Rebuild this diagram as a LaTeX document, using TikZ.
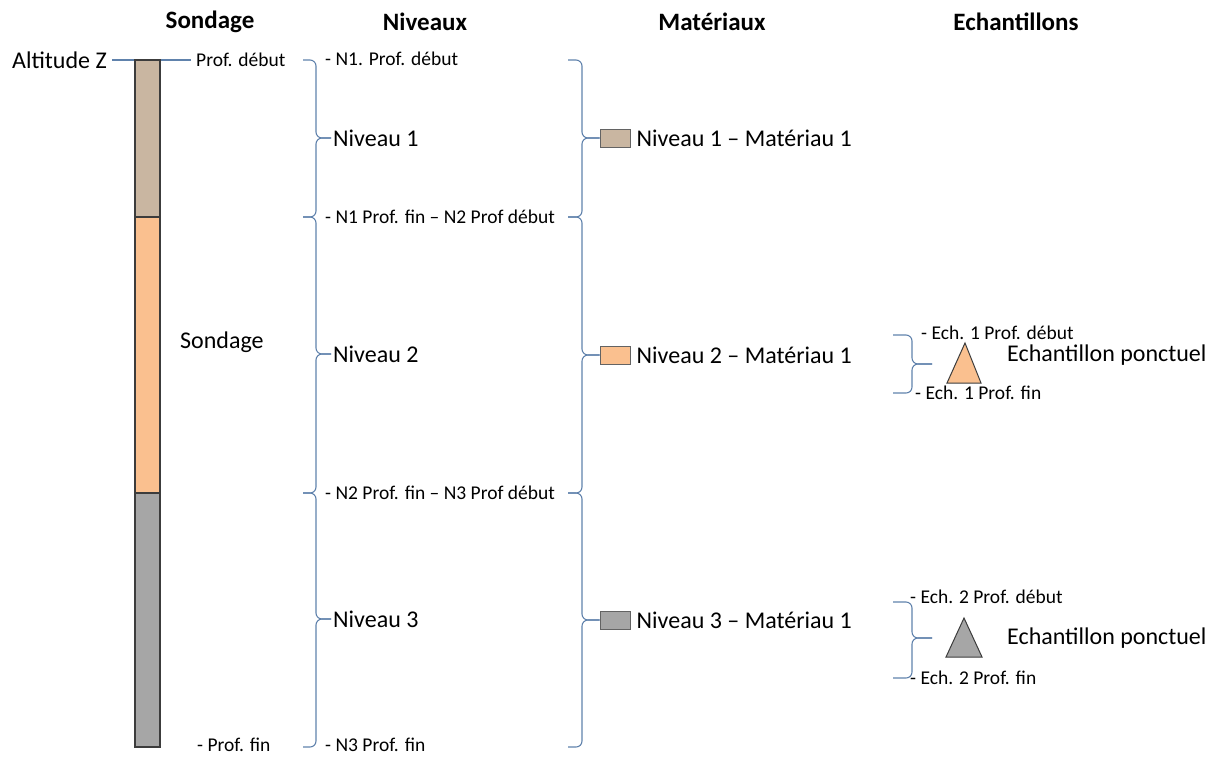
\documentclass[tikz,border=0pt]{standalone}
\usepackage{fontspec}
\setmainfont{Carlito}
\usepackage{xcolor}
\usetikzlibrary{positioning}

\definecolor{brun}{RGB}{201,182,161}
\definecolor{peche}{RGB}{250,192,143}
\definecolor{gris}{RGB}{166,166,166}
\definecolor{bord}{RGB}{60,60,60}
\definecolor{bleu}{RGB}{96,130,172}

\begin{document}
\begin{tikzpicture}[
  x=1pt, y=-1pt,
  hdr/.style={font=\fontsize{25}{29}\selectfont\bfseries, inner sep=0pt},
  big/.style={font=\fontsize{24}{28}\selectfont, inner sep=2pt, anchor=west},
  small/.style={font=\fontsize{19.5}{23}\selectfont, inner sep=2pt, anchor=west},
  brc/.style={draw=bleu, line width=1.1pt, rounded corners=6pt},
  layer/.style={draw=bord, line width=1.2pt, minimum width=25pt, outer sep=0pt, inner sep=0pt},
  mat/.style={draw=bord!80, line width=1pt, minimum width=30pt, minimum height=18pt, inner sep=0pt},
  tri/.style={draw=bord, line width=1pt}
]
\useasboundingbox (0,0) rectangle (1217,756);

% titres
\node[hdr] (hsond) at (210,22) {Sondage};
\node[hdr] (hniv) at (425,22) {Niveaux};
\node[hdr] (hmat) at (712,22) {Matériaux};
\node[hdr] (hech) at (1016,22) {Echantillons};

% sondage
\node[big, anchor=east, inner xsep=5pt] (altz) at (112,60) {Altitude Z};
\node[small, inner xsep=5pt] (sdeb) at (191,60) {Prof. début};
\draw[bleu, line width=1.1pt] (altz) -- (sdeb);
\node[layer, fill=brun, minimum height=157pt, anchor=north west] (c1) at (135,60) {};
\node[layer, fill=peche, minimum height=276pt, below=0pt of c1] (c2) {};
\node[layer, fill=gris, minimum height=254pt, below=0pt of c2] (c3) {};
\node[big] (sond) at (178,342) {Sondage};
\node[small] (sfin) at (195,745) {- Prof. fin};

% niveaux
\coordinate (nv0) at (303,60);
\coordinate (nv1) at (303,217);
\coordinate (nv2) at (303,493);
\coordinate (nv3) at (303,747);
\node[small] (n1deb) at (323,59) {- N1. Prof. début};
\node[big] (niv1) at (331,138) {Niveau 1};
\node[small] (n12) at (323,217) {- N1 Prof. fin – N2 Prof début};
\node[big] (niv2) at (331,354) {Niveau 2};
\node[small] (n23) at (323,493) {- N2 Prof. fin – N3 Prof début};
\node[big] (niv3) at (331,619) {Niveau 3};
\node[small] (n3fin) at (323,745) {- N3 Prof. fin};
\draw[brc] (nv0) -- ++(13,0) |- (niv1.west);
\draw[brc] (nv1) -- ++(13,0) |- (niv1.west);
\draw[brc] (nv1) -- ++(13,0) |- (niv2.west);
\draw[brc] (nv2) -- ++(13,0) |- (niv2.west);
\draw[brc] (nv2) -- ++(13,0) |- (niv3.west);
\draw[brc] (nv3) -- ++(13,0) |- (niv3.west);

% materiaux
\coordinate (mt0) at (568,60);
\coordinate (mt1) at (568,217);
\coordinate (mt2) at (568,493);
\coordinate (mt3) at (568,747);
\node[mat, fill=brun] (m1) at (615,138) {};
\node[big, right=4pt of m1] (m1t) {Niveau 1 – Matériau 1};
\node[mat, fill=peche] (m2) at (615,355) {};
\node[big, right=4pt of m2] (m2t) {Niveau 2 – Matériau 1};
\node[mat, fill=gris] (m3) at (615,620) {};
\node[big, right=4pt of m3] (m3t) {Niveau 3 – Matériau 1};
\draw[brc] (mt0) -- ++(14,0) |- (m1.west);
\draw[brc] (mt1) -- ++(14,0) |- (m1.west);
\draw[brc] (mt1) -- ++(14,0) |- (m2.west);
\draw[brc] (mt2) -- ++(14,0) |- (m2.west);
\draw[brc] (mt2) -- ++(14,0) |- (m3.west);
\draw[brc] (mt3) -- ++(14,0) |- (m3.west);

% echantillons
\coordinate (e1a) at (893,335);
\coordinate (e1b) at (893,393);
\coordinate (e1t) at (932,364);
\coordinate (e2a) at (893,602);
\coordinate (e2b) at (893,678);
\coordinate (e2t) at (932,638);
\draw[brc] (e1a) -- ++(19,0) |- (e1t);
\draw[brc] (e1b) -- ++(19,0) |- (e1t);
\draw[brc] (e2a) -- ++(19,0) |- (e2t);
\draw[brc] (e2b) -- ++(19,0) |- (e2t);
\node[small] (e1deb) at (919,333) {- Ech. 1 Prof. début};
\node[small] (e1fin) at (913,393) {- Ech. 1 Prof. fin};
\node[small] (e2deb) at (908,597) {- Ech. 2 Prof. début};
\node[small] (e2fin) at (908,678) {- Ech. 2 Prof. fin};
\filldraw[tri, fill=peche] (965,343) -- (981,383) -- (947,383) -- cycle;
\filldraw[tri, fill=gris] (964,618) -- (982,657) -- (946,657) -- cycle;
\node[big] (ep1) at (1005,355) {Echantillon ponctuel};
\node[big] (ep2) at (1005,638) {Echantillon ponctuel};
\end{tikzpicture}
\end{document}
